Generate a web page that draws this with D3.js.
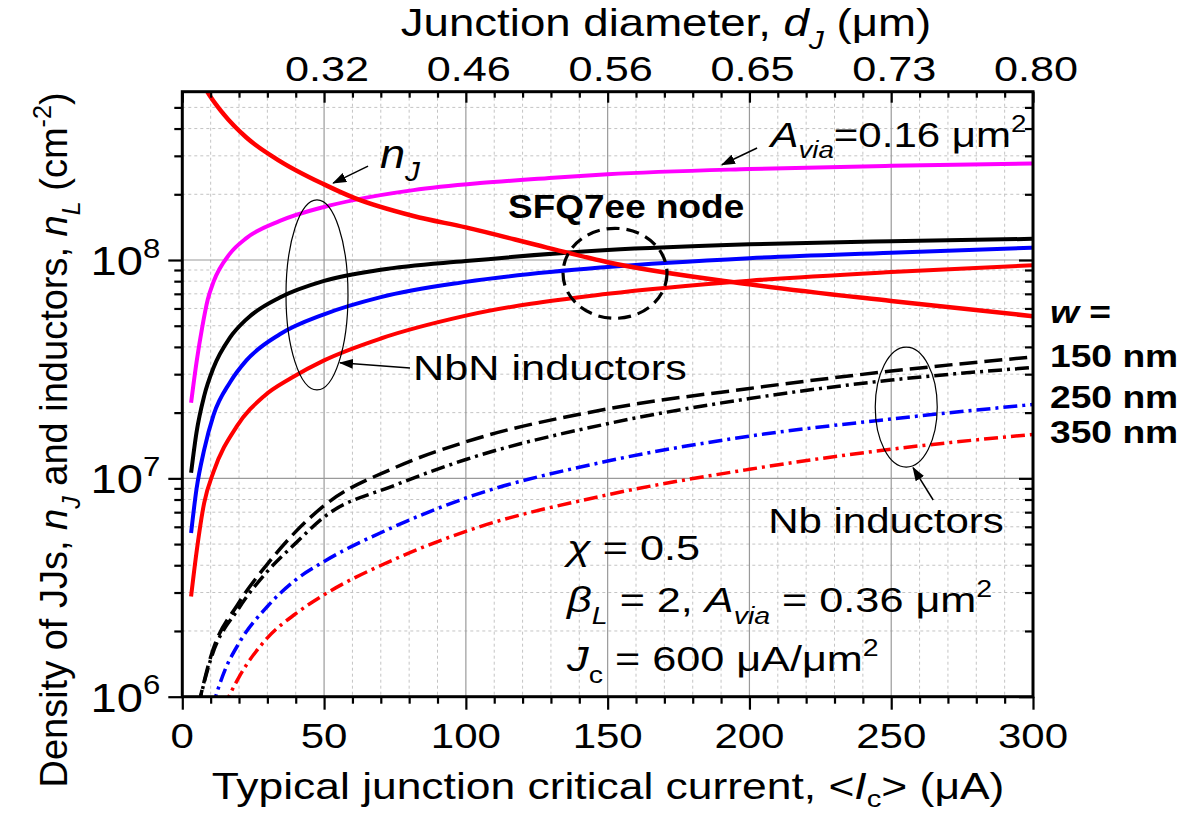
<!DOCTYPE html>
<html>
<head>
<meta charset="utf-8">
<script src="https://cdn.jsdelivr.net/npm/d3@7"></script>
<style>
body { margin: 0; background: #fff; }
svg { display: block; font-family: "Liberation Sans", Arial, sans-serif; }
text { white-space: pre; }
</style>
</head>
<body>
<script>
// values. Ic in uA, densities in cm^-2

// JJ density n_J (solid red, falling)
var icNJ = [6, 8.6, 14.5, 22.6, 34.4, 50, 60.4, 81.5, 100, 128.6, 150, 200, 250, 300];
var nJ = [6.92e8, 5.96e8, 4.67e8, 3.64e8, 2.84e8, 2.22e8, 1.93e8, 1.59e8, 1.41e8, 1.14e8, 9.77e7, 7.74e7, 6.49e7, 5.53e7];

// NbN inductors, A_via = 0.16 um^2 (magenta)
var icVia = [3.1, 5, 7, 9, 11, 16.8, 22.6, 34.4, 50, 60.4, 81.5, 105, 128.6, 150, 200, 250, 300];
var nVia = [2.22e7, 3.39e7, 4.90e7, 6.61e7, 7.94e7, 1.07e8, 1.26e8, 1.51e8, 1.75e8, 1.88e8, 2.09e8, 2.25e8, 2.37e8, 2.47e8, 2.61e8, 2.70e8, 2.77e8];

// NbN inductors, w = 150 / 250 / 350 nm
var icNbN = [3.1, 5, 7.7, 11, 16.8, 22.6, 34.4, 50, 70, 100, 150, 200, 250, 300];
var nNbN150 = [1.06e7, 1.62e7, 2.38e7, 3.21e7, 4.41e7, 5.35e7, 6.73e7, 8.02e7, 9.02e7, 9.89e7, 1.11e8, 1.18e8, 1.22e8, 1.25e8];
var nNbN250 = [5.62e6, 8.91e6, 1.35e7, 1.95e7, 2.75e7, 3.47e7, 4.57e7, 5.64e7, 6.76e7, 7.94e7, 9.29e7, 1.02e8, 1.08e8, 1.14e8];
var icNbN350 = [3.1, 5, 7.7, 11, 19.2, 28.8, 38.4, 50, 70, 100, 150, 200, 250, 300];
var nNbN350 = [2.88e6, 4.57e6, 7.71e6, 1.07e7, 1.73e7, 2.38e7, 2.88e7, 3.47e7, 4.37e7, 5.56e7, 7.00e7, 8.04e7, 8.81e7, 9.46e7];

// Nb inductors
var icNb = [5.5, 10, 20, 30, 40, 50, 75, 100, 150, 200, 250, 300];
var nNbDash = [8.91e5, 1.52e6, 2.70e6, 4.05e6, 5.70e6, 7.50e6, 1.12e7, 1.47e7, 2.08e7, 2.58e7, 3.10e7, 3.60e7];
var nNb150 = [8.91e5, 1.48e6, 2.55e6, 3.75e6, 5.05e6, 6.65e6, 9.30e6, 1.22e7, 1.78e7, 2.32e7, 2.82e7, 3.22e7];
var icNb250 = [10.5, 15, 20, 30, 40, 50, 75, 100, 150, 200, 250, 300];
var nNb250 = [8.91e5, 1.32e6, 1.76e6, 2.59e6, 3.43e6, 4.16e6, 6.03e6, 8.13e6, 1.20e7, 1.56e7, 1.87e7, 2.18e7];
var icNb350 = [14.5, 20, 30, 40, 50, 75, 100, 150, 200, 250, 300];
var nNb350 = [8.91e5, 1.23e6, 1.86e6, 2.40e6, 2.93e6, 4.27e6, 5.72e6, 8.41e6, 1.10e7, 1.36e7, 1.59e7];

// axes
var xTicks = [0, 50, 100, 150, 200, 250, 300];
var topTickIc = [50, 100, 150, 200, 250, 300];
var topTickLabels = ["0.32", "0.46", "0.56", "0.65", "0.73", "0.80"];
var yMajor = [1e6, 1e7, 1e8];
var yExp = ["6", "7", "8"];
var yMax = 5.9e8;
var wLabels = ["150 nm", "250 nm", "350 nm"];

var W = 1190, H = 815;
var SX = 1.2; // the source lettering is a bit wide

var svg = d3.select("body").append("svg").attr("width", W).attr("height", H);

var x = d3.scaleLinear().domain([0, 300]).range([182.3, 1033]);
var y = d3.scaleLog().domain([1e6, yMax]).range([696.7, 91.7]);
var L = x(0), R = x(300), T = y(yMax), B = y(1e6);

var xMinor = d3.range(0, 301, 10).filter(function(d) { return d % 50 != 0; });
var yMinor = [];
[1e6, 1e7, 1e8].forEach(function(b) {
  for (var k = 2; k <= 9; k++) if (b * k < yMax) yMinor.push(b * k);
});

// text with italic / sub / sup pieces
function rich(px, py, parts, o) {
  var tr = "translate(" + px + "," + py + ")" + (o.rot ? " rotate(" + o.rot + ")" : "") + " scale(" + (o.sx || 1) + ",1)";
  var g = svg.append("g").attr("transform", tr);
  var t = g.append("text")
    .attr("font-size", o.size)
    .attr("text-anchor", o.anchor || "start")
    .attr("font-weight", o.bold ? "bold" : "normal")
    .attr("fill", "#000");
  var cur = 0;
  var subOff = o.subOff || 0.33;
  parts.forEach(function(p) {
    var s = typeof p === "string" ? { t: p } : p;
    var off = s.sub ? o.size * subOff : s.sup ? -o.size * 0.42 : 0;
    var ts = t.append("tspan").text(s.t).attr("dy", off - cur);
    cur = off;
    if (s.sub || s.sup) ts.attr("font-size", o.size * 0.66);
    if (s.i) ts.attr("font-style", "italic");
  });
  return g;
}

// grid
var grid = svg.append("g");
grid.selectAll(".gxm").data(xMinor).enter().append("line")
  .attr("x1", x).attr("x2", x).attr("y1", T).attr("y2", B)
  .attr("stroke", "#c4c4c4").attr("stroke-width", 1).attr("stroke-dasharray", "3,3");
grid.selectAll(".gym").data(yMinor).enter().append("line")
  .attr("y1", y).attr("y2", y).attr("x1", L).attr("x2", R)
  .attr("stroke", "#c4c4c4").attr("stroke-width", 1).attr("stroke-dasharray", "3,3");
grid.selectAll(".gx").data(xTicks.slice(1, -1)).enter().append("line")
  .attr("x1", x).attr("x2", x).attr("y1", T).attr("y2", B)
  .attr("stroke", "#9a9a9a").attr("stroke-width", 1.2);
grid.selectAll(".gy").data([1e7, 1e8]).enter().append("line")
  .attr("y1", y).attr("y2", y).attr("x1", L).attr("x2", R)
  .attr("stroke", "#9a9a9a").attr("stroke-width", 1.2);

// curves
svg.append("clipPath").attr("id", "plot").append("rect")
  .attr("x", L).attr("y", T).attr("width", R - L).attr("height", B - T);

var series = [
  { ic: icNb350, v: nNb350, color: "#ff0000", dash: "14,5,3,5", w: 3.5 },
  { ic: icNb250, v: nNb250, color: "#0000ff", dash: "14,5,3,5", w: 3.5 },
  { ic: icNb, v: nNb150, color: "#000", dash: "14,5,3,5", w: 3.5 },
  { ic: icNb, v: nNbDash, color: "#000", dash: "18,7", w: 3.5 },
  { ic: icNbN350, v: nNbN350, color: "#ff0000", dash: null, w: 4 },
  { ic: icNbN, v: nNbN250, color: "#0000ff", dash: null, w: 4 },
  { ic: icNbN, v: nNbN150, color: "#000", dash: null, w: 4 },
  { ic: icVia, v: nVia, color: "#ff00ff", dash: null, w: 4 },
  { ic: icNJ, v: nJ, color: "#ff0000", dash: null, w: 4.5 }
];

var line = d3.line()
  .x(function(d) { return x(d[0]); })
  .y(function(d) { return y(d[1]); })
  .curve(d3.curveMonotoneX);

svg.append("g").attr("clip-path", "url(#plot)")
  .selectAll("path").data(series).enter().append("path")
  .attr("d", function(s) { return line(d3.zip(s.ic, s.v)); })
  .attr("fill", "none")
  .attr("stroke", function(s) { return s.color; })
  .attr("stroke-width", function(s) { return s.w; })
  .attr("stroke-dasharray", function(s) { return s.dash; });

// axes: ticks from d3 axes, frame drawn as a rect
function styleAxis(g) {
  g.select(".domain").remove();
  g.selectAll("line").attr("stroke", "#000").attr("stroke-width", 2.2);
  g.selectAll("text").remove();
}
svg.append("g").attr("transform", "translate(0," + B + ")")
  .call(d3.axisBottom(x).tickValues(xTicks).tickSize(13)).call(styleAxis);
svg.append("g").attr("transform", "translate(0," + B + ")")
  .call(d3.axisBottom(x).tickValues(xMinor).tickSize(7)).call(styleAxis);
svg.append("g").attr("transform", "translate(0," + T + ")")
  .call(d3.axisTop(x).tickValues(xTicks).tickSize(-11)).call(styleAxis);
svg.append("g").attr("transform", "translate(0," + T + ")")
  .call(d3.axisTop(x).tickValues(xMinor).tickSize(-6)).call(styleAxis);
svg.append("g").attr("transform", "translate(" + L + ",0)")
  .call(d3.axisLeft(y).tickValues(yMajor).tickSize(14)).call(styleAxis);
svg.append("g").attr("transform", "translate(" + L + ",0)")
  .call(d3.axisLeft(y).tickValues(yMinor).tickSize(8)).call(styleAxis);
svg.append("g").attr("transform", "translate(" + R + ",0)")
  .call(d3.axisRight(y).tickValues(yMajor).tickSize(-14)).call(styleAxis);
svg.append("g").attr("transform", "translate(" + R + ",0)")
  .call(d3.axisRight(y).tickValues(yMinor).tickSize(-8)).call(styleAxis);

svg.append("rect").attr("x", L).attr("y", T).attr("width", R - L).attr("height", B - T)
  .attr("fill", "none").attr("stroke", "#000").attr("stroke-width", 3);

// tick labels
xTicks.forEach(function(d) {
  rich(x(d), B + 51, [String(d)], { size: 35, anchor: "middle", sx: SX });
});
topTickIc.forEach(function(d, i) {
  rich(x(d) + 3, T - 11, [topTickLabels[i]], { size: 36, anchor: "middle", sx: SX });
});
yMajor.forEach(function(d, i) {
  rich(L - 22, y(d) + 15, ["10", { t: yExp[i], sup: true }], { size: 41, anchor: "end", sx: 1.15 });
});

// axis titles
rich(666, 36, ["Junction diameter, ", { t: "d", i: true }, { t: "J", i: true, sub: true }, " (μm)"],
  { size: 38, anchor: "middle", sx: SX });
rich(608, 799, ["Typical junction critical current, <", { t: "I", i: true }, { t: "c", sub: true }, "> (μA)"],
  { size: 37, anchor: "middle", sx: SX, subOff: 0.22 });
rich(67, 440, ["Density of JJs, ", { t: "n", i: true }, { t: "J", i: true, sub: true }, " and inductors, ",
  { t: "n", i: true }, { t: "L", i: true, sub: true }, " (cm", { t: "-2", sup: true }, ")"],
  { size: 38, anchor: "middle", rot: -90 });

// annotations
var defs = svg.append("defs");
defs.append("marker").attr("id", "arr").attr("markerUnits", "userSpaceOnUse")
  .attr("markerWidth", 14).attr("markerHeight", 10).attr("refX", 13).attr("refY", 5)
  .attr("orient", "auto")
  .append("path").attr("d", "M0,0 L14,5 L0,10 Z").attr("fill", "#000");

function arrow(ic1, v1, ic2, v2) {
  svg.append("line")
    .attr("x1", x(ic1)).attr("y1", y(v1)).attr("x2", x(ic2)).attr("y2", y(v2))
    .attr("stroke", "#000").attr("stroke-width", 1.5).attr("marker-end", "url(#arr)");
}
function ring(ic, v, rx, ry, dash, w) {
  svg.append("ellipse").attr("cx", x(ic)).attr("cy", y(v)).attr("rx", rx).attr("ry", ry)
    .attr("fill", "none").attr("stroke", "#000").attr("stroke-width", w)
    .attr("stroke-dasharray", dash);
}

rich(x(69.7), y(2.64e8), [{ t: "n", i: true }, { t: "J", i: true, sub: true }], { size: 41, sx: 1.1 });
arrow(65.5, 2.69e8, 53.2, 2.25e8);

rich(x(207.4), y(3.31e8), [{ t: "A", i: true }, { t: "via", i: true, sub: true }, "=0.16 μm", { t: "2", sup: true }],
  { size: 35, sx: SX });
arrow(202.7, 3.26e8, 190.3, 2.73e8);

rich(x(114.9), y(1.55e8), ["SFQ7ee node"], { size: 33, bold: true, sx: 1.12 });
ring(152.6, 8.69e7, 52, 45, "13,7", 3.2);

ring(47.5, 6.92e7, 31, 95, null, 1.2);
rich(x(81.4), y(2.82e7), ["NbN inductors"], { size: 36, sx: SX });
arrow(80.3, 3.2e7, 55.6, 3.38e7);

ring(255.3, 2.12e7, 31, 60, null, 1.2);
rich(x(206.6), y(5.62e6), ["Nb inductors"], { size: 35, sx: SX });
arrow(264.8, 7.96e6, 257.7, 1.12e7);

rich(x(135.7), y(4.23e6), [{ t: "χ", i: true }, " = 0.5"], { size: 36, sx: SX });
rich(x(135.7), y(2.44e6), [{ t: "β", i: true }, { t: "L", i: true, sub: true }, " = 2, ", { t: "A", i: true },
  { t: "via", i: true, sub: true }, " = 0.36 μm", { t: "2", sup: true }], { size: 36, sx: SX });
rich(x(135.7), y(1.31e6), [{ t: "J", i: true }, { t: "c", sub: true }, " = 600 μA/μm", { t: "2", sup: true }],
  { size: 36, sx: SX });

// w legend at the right
rich(R + 17, y(5.17e7), [{ t: "w", i: true }, " ="], { size: 31, bold: true, sx: SX });
var wVals = [3.23e7, 2.09e7, 1.45e7];
wLabels.forEach(function(s, i) {
  rich(R + 17, y(wVals[i]), [s], { size: 31, bold: true, sx: SX });
});
</script>
</body>
</html>
